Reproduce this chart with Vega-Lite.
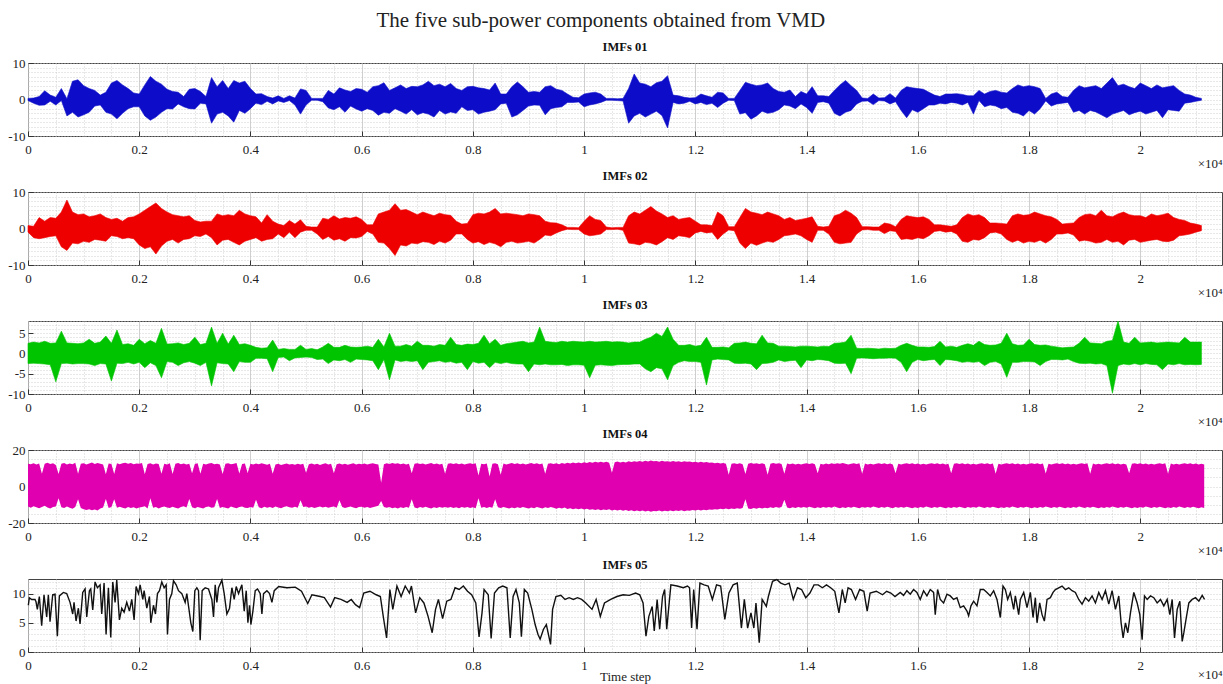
{
  "$schema": "https://vega.github.io/schema/vega-lite/v6.json",
  "background": "white",
  "padding": {"left": 7, "top": 10, "right": 1, "bottom": 0},
  "title": {"text": "The five sub-power components obtained from VMD", "font": "Liberation Serif", "fontSize": 21, "fontWeight": "normal", "color": "#222", "anchor": "middle", "offset": 9, "dx": -14},
  "config": {
    "font": "Liberation Serif",
    "view": {"stroke": "#444", "strokeWidth": 1},
    "title": {"font": "Liberation Serif", "fontSize": 12.5, "fontWeight": "bold", "color": "#111", "offset": 4},
    "axis": {
      "domain": false, "grid": true, "gridColor": "#c4c4c4", "gridWidth": 0.8,
      "labelFont": "Liberation Serif", "labelFontSize": 13, "labelColor": "#222",
      "titleFont": "Liberation Serif", "titleFontSize": 13, "titleFontWeight": "normal", "titleColor": "#222",
      "tickWidth": 1
    }
  },
  "data": {
    "values": "t,a1,a2,b1,b2,c1,c2\n0,0.3,-0.3,0.8,-1.0,2.5,-2.5\n100,0.4,-1.0,0.6,-2.5,2.8,-2.4\n200,0.8,-1.6,3.0,-2.8,2.6,-2.5\n300,2.4,-1.5,2.0,-2.5,3.0,-2.6\n400,1.2,-0.5,3.0,-2.2,2.5,-2.8\n500,0.6,-1.5,2.8,-2.0,2.6,-7.0\n600,3.0,-0.3,4.5,-5.0,5.5,-2.5\n700,0.2,-4.5,7.8,-6.0,2.6,-2.4\n800,5.0,-3.5,4.5,-4.0,2.5,-2.6\n900,5.4,-4.8,3.8,-4.2,2.4,-2.5\n1000,3.8,-4.2,4.0,-3.5,2.6,-2.5\n1100,3.0,-3.5,3.2,-3.8,3.5,-2.6\n1200,2.5,-1.8,3.5,-3.0,2.5,-3.0\n1300,1.2,-1.5,4.0,-3.2,2.8,-2.5\n1400,2.0,-3.5,3.0,-3.5,4.3,-2.6\n1500,4.5,-4.0,2.5,-2.0,2.5,-6.8\n1600,5.2,-5.3,2.8,-2.2,5.8,-2.4\n1700,4.0,-3.8,2.0,-2.8,2.2,-2.5\n1800,3.0,-2.5,3.0,-2.5,2.4,-2.2\n1900,1.8,-2.0,3.2,-2.8,2.0,-2.6\n2000,1.5,-2.0,4.0,-4.5,3.5,-2.2\n2100,4.0,-4.5,5.0,-5.5,2.4,-3.5\n2200,6.3,-5.7,6.0,-5.0,3.2,-2.3\n2300,5.0,-4.8,7.0,-7.0,2.5,-3.0\n2400,4.2,-3.5,5.5,-4.8,6.2,-6.0\n2500,2.8,-2.5,4.5,-3.5,2.3,-2.0\n2600,2.2,-2.6,3.8,-3.0,2.4,-2.2\n2700,2.0,-1.2,3.5,-4.0,2.6,-3.0\n2800,0.8,-2.0,3.2,-3.0,2.2,-2.3\n2900,2.8,-2.5,3.5,-2.8,2.5,-2.0\n3000,3.0,-2.6,2.2,-2.0,4.0,-2.4\n3100,2.2,-1.0,1.8,-2.2,2.2,-3.0\n3200,0.8,-1.2,2.0,-1.5,2.5,-2.2\n3300,6.0,-6.5,2.0,-2.5,6.5,-8.0\n3400,3.5,-4.0,4.0,-4.5,2.5,-2.3\n3500,5.2,-3.5,3.5,-3.2,5.0,-2.5\n3600,3.0,-4.5,3.8,-3.0,2.3,-2.6\n3700,5.2,-6.2,3.5,-3.8,4.5,-4.5\n3800,4.5,-3.0,5.0,-4.5,2.2,-2.0\n3900,5.0,-3.8,4.0,-3.5,2.4,-2.2\n4000,3.0,-2.5,3.5,-3.0,2.0,-2.2\n4100,1.5,-1.0,3.2,-2.5,1.5,-1.2\n4200,1.6,-1.4,1.5,-3.5,1.3,-1.2\n4300,0.8,-0.5,3.8,-3.0,1.4,-1.3\n4400,0.4,-1.2,2.0,-2.8,3.3,-4.5\n4500,1.0,-0.4,1.2,-1.5,1.0,-1.0\n4600,0.3,-0.8,0.8,-2.5,1.2,-0.9\n4700,1.0,-0.3,2.2,-1.0,1.0,-1.8\n4800,0.4,-1.5,1.2,-2.5,1.0,-1.1\n4900,2.9,-4.0,2.4,-1.0,2.0,-1.0\n5000,2.5,-1.5,0.6,-0.5,1.0,-0.9\n5100,0.3,-0.2,0.4,-0.5,1.2,-1.0\n5200,0.3,-0.2,0.4,-1.5,0.9,-1.5\n5300,0.3,-0.6,2.8,-3.0,1.6,-1.4\n5400,2.5,-2.3,2.5,-2.2,2.5,-2.5\n5500,1.5,-2.8,3.5,-3.2,1.5,-1.6\n5600,3.2,-2.0,2.6,-2.8,1.5,-1.8\n5700,2.6,-3.5,3.0,-3.5,2.0,-1.5\n5800,2.2,-1.8,2.8,-2.5,1.6,-2.2\n5900,3.0,-2.6,3.2,-2.6,1.5,-1.4\n6000,2.8,-3.2,2.5,-2.2,1.6,-1.5\n6100,2.0,-2.5,1.0,-0.8,1.8,-1.6\n6200,3.5,-3.0,1.0,-1.5,1.5,-1.8\n6300,3.8,-4.3,4.0,-3.8,3.5,-4.0\n6400,4.6,-3.5,4.5,-4.0,1.6,-1.5\n6500,2.5,-3.8,5.0,-5.5,5.0,-6.5\n6600,3.2,-2.5,6.8,-7.4,1.8,-1.6\n6700,4.0,-3.2,5.0,-4.5,1.8,-2.0\n6800,3.0,-4.0,5.2,-4.8,2.2,-1.8\n6900,3.6,-2.8,4.5,-4.0,1.8,-2.0\n7000,3.5,-4.2,3.8,-4.2,3.0,-1.8\n7100,4.0,-3.6,4.5,-3.6,2.0,-4.0\n7200,5.0,-4.0,4.0,-3.8,2.0,-2.2\n7300,3.8,-4.8,3.5,-4.4,1.8,-2.0\n7400,4.2,-3.0,4.2,-3.5,2.2,-1.8\n7500,3.5,-4.0,3.8,-4.0,2.0,-2.2\n7600,4.4,-3.4,3.6,-3.2,4.0,-2.0\n7700,3.0,-3.8,2.0,-1.5,2.2,-2.4\n7800,2.5,-2.0,1.2,-1.5,2.0,-2.2\n7900,3.5,-3.0,1.4,-3.0,2.3,-4.0\n8000,3.6,-2.8,3.8,-4.0,2.2,-2.0\n8100,3.2,-4.0,4.2,-3.6,2.5,-2.4\n8200,3.0,-3.5,4.0,-4.4,4.5,-2.2\n8300,2.6,-3.2,4.5,-3.8,2.4,-3.5\n8400,4.5,-2.8,5.5,-4.2,3.5,-2.2\n8500,1.5,-1.2,4.0,-5.0,2.0,-2.5\n8600,1.5,-1.0,4.2,-3.8,2.4,-2.2\n8700,3.5,-4.8,4.0,-3.5,2.6,-2.5\n8800,4.8,-4.2,3.8,-4.0,2.8,-2.6\n8900,3.5,-3.0,3.5,-3.8,3.0,-2.6\n9000,2.0,-1.8,4.0,-3.5,2.6,-4.5\n9100,2.2,-1.5,3.8,-4.0,2.8,-2.6\n9200,2.0,-1.6,3.5,-3.0,6.5,-2.8\n9300,3.5,-4.2,2.0,-1.8,3.0,-2.6\n9400,3.8,-2.5,1.6,-2.0,2.8,-2.8\n9500,2.8,-2.2,1.5,-1.2,2.7,-2.8\n9600,2.5,-2.0,1.0,-0.6,3.0,-2.7\n9700,1.5,-0.8,0.3,-0.2,2.8,-3.0\n9800,0.6,-0.8,0.3,-0.3,3.0,-2.8\n9900,0.5,-0.7,0.2,-0.3,2.9,-2.8\n10000,1.5,-2.0,2.0,-1.5,2.8,-2.9\n10100,1.8,-1.5,3.5,-2.0,3.0,-6.0\n10200,2.0,-1.2,2.5,-1.8,2.8,-2.9\n10300,1.5,-0.8,2.2,-1.5,2.9,-2.8\n10400,0.3,-0.2,0.4,-0.3,3.0,-2.9\n10500,0.3,-0.2,0.2,-0.3,2.8,-3.0\n10600,0.2,-0.3,0.3,-0.2,2.9,-2.8\n10700,0.3,-0.4,0.3,-0.5,2.8,-2.7\n10800,3.0,-6.5,3.5,-4.0,2.6,-2.7\n10900,7.0,-4.5,4.5,-4.2,2.8,-2.6\n11000,4.5,-3.8,4.0,-4.5,2.8,-2.6\n11100,4.2,-4.8,5.0,-3.8,3.5,-3.8\n11200,3.5,-4.0,6.0,-4.0,4.0,-4.5\n11300,4.6,-3.2,4.8,-4.5,5.0,-3.5\n11400,5.0,-4.4,4.0,-3.6,4.2,-3.8\n11500,6.5,-7.8,3.0,-2.5,6.5,-6.5\n11600,1.2,-0.8,3.5,-3.0,3.5,-3.0\n11700,1.0,-1.2,2.5,-2.0,2.0,-2.2\n11800,0.6,-1.0,2.8,-2.2,2.0,-1.8\n11900,0.4,-0.5,3.0,-2.5,2.2,-2.0\n12000,0.5,-1.2,2.0,-1.2,1.8,-2.0\n12100,1.5,-0.8,1.0,-0.8,2.0,-2.2\n12200,1.0,-1.4,1.0,-1.2,4.0,-7.8\n12300,0.6,-1.0,0.8,-1.0,1.5,-1.6\n12400,2.0,-2.2,4.5,-3.0,1.5,-1.4\n12500,1.8,-1.0,3.5,-1.5,1.6,-1.5\n12600,0.3,-0.2,0.5,-0.4,1.4,-1.6\n12700,0.3,-0.3,0.5,-0.6,2.5,-2.4\n12800,2.5,-4.0,3.0,-4.0,2.6,-2.5\n12900,4.7,-3.6,5.5,-5.5,2.8,-2.4\n13000,4.2,-5.4,4.5,-4.0,2.5,-2.6\n13100,3.8,-4.5,4.2,-4.6,2.4,-4.0\n13200,4.0,-3.2,3.8,-4.0,4.5,-2.5\n13300,4.5,-3.8,4.5,-3.5,2.6,-2.4\n13400,3.0,-3.5,4.0,-3.8,2.5,-2.2\n13500,2.2,-2.8,3.5,-3.0,1.8,-1.6\n13600,2.0,-1.5,2.5,-2.0,1.8,-2.0\n13700,2.6,-1.8,3.0,-1.8,1.7,-1.8\n13800,0.8,-2.5,2.2,-1.5,1.6,-1.7\n13900,2.2,-1.2,2.5,-2.0,1.8,-3.5\n14000,1.5,-2.2,2.8,-3.0,1.8,-1.6\n14100,3.5,-3.8,3.2,-3.8,1.7,-1.8\n14200,1.0,-0.8,0.6,-0.5,1.6,-1.5\n14300,1.0,-0.6,0.4,-0.5,1.8,-1.6\n14400,0.8,-1.0,0.6,-1.5,1.7,-1.8\n14500,2.5,-3.8,3.5,-3.8,2.5,-2.4\n14600,4.0,-4.5,4.0,-4.2,2.6,-2.5\n14700,5.2,-3.5,5.0,-4.0,2.8,-2.4\n14800,3.8,-3.0,4.2,-3.8,4.5,-5.0\n14900,2.5,-1.2,3.0,-1.5,1.3,-1.2\n15000,0.4,-0.5,0.5,-0.4,1.2,-1.1\n15100,0.3,-0.4,0.5,-0.3,1.3,-1.2\n15200,1.5,-1.4,0.4,-0.5,1.2,-1.3\n15300,0.4,-0.3,0.4,-0.5,1.1,-1.2\n15400,0.5,-0.4,1.5,-1.4,1.3,-1.2\n15500,1.6,-1.2,1.2,-0.6,1.2,-1.1\n15600,0.4,-0.6,0.5,-0.8,1.3,-1.2\n15700,2.5,-3.0,2.5,-3.0,2.0,-2.2\n15800,3.5,-5.0,3.5,-2.8,2.5,-4.5\n15900,3.2,-2.8,3.2,-3.0,2.0,-2.2\n16000,3.0,-3.5,3.0,-2.5,1.6,-1.5\n16100,2.8,-2.5,3.2,-2.8,1.6,-1.8\n16200,2.0,-1.5,2.5,-2.0,1.5,-1.6\n16300,1.2,-1.5,1.0,-0.8,1.7,-1.5\n16400,0.8,-1.0,1.0,-0.6,3.0,-3.0\n16500,1.5,-1.2,0.8,-1.0,1.6,-1.5\n16600,1.5,-0.8,0.6,-0.8,1.8,-1.6\n16700,1.6,-1.0,1.0,-1.5,1.5,-1.8\n16800,1.4,-1.5,3.0,-3.5,2.0,-2.2\n16900,1.0,-0.8,4.0,-3.8,2.4,-2.0\n17000,1.0,-4.0,3.5,-3.0,2.0,-2.2\n17100,2.5,-0.3,3.8,-3.2,3.0,-2.0\n17200,1.5,-2.0,3.0,-2.5,2.2,-3.0\n17300,2.2,-1.5,1.5,-1.2,2.0,-2.2\n17400,2.5,-1.8,1.5,-1.0,2.1,-2.0\n17500,2.0,-2.5,1.4,-1.5,2.5,-2.6\n17600,1.8,-2.2,1.2,-3.0,5.0,-5.9\n17700,3.0,-3.5,3.5,-3.8,2.4,-2.2\n17800,4.0,-3.8,4.0,-3.2,2.0,-2.2\n17900,3.5,-4.5,3.6,-4.0,2.1,-2.0\n18000,3.8,-3.0,3.8,-3.5,3.5,-2.0\n18100,3.5,-4.0,4.5,-3.8,2.2,-2.1\n18200,3.0,-2.5,4.0,-3.2,2.0,-3.0\n18300,0.3,-0.4,3.5,-4.0,2.1,-2.0\n18400,1.5,-1.8,3.2,-3.0,1.8,-1.5\n18500,2.0,-1.2,2.5,-1.5,1.6,-1.5\n18600,0.8,-1.0,1.2,-1.5,1.4,-1.6\n18700,0.6,-0.8,1.4,-1.2,1.5,-1.4\n18800,2.5,-3.5,1.5,-1.8,1.6,-2.0\n18900,3.8,-3.0,3.0,-3.5,2.5,-2.4\n19000,3.2,-4.0,3.8,-3.2,4.0,-2.5\n19100,3.5,-3.0,4.0,-3.5,2.6,-2.4\n19200,3.8,-3.4,3.5,-4.0,2.5,-2.6\n19300,3.0,-4.2,5.0,-3.8,2.4,-2.5\n19400,4.5,-5.0,3.5,-3.0,3.0,-3.0\n19500,6.0,-4.0,3.2,-3.8,3.2,-9.8\n19600,3.8,-3.5,4.0,-3.5,8.0,-3.0\n19700,4.2,-3.0,4.5,-4.5,2.8,-2.6\n19800,3.5,-4.2,3.8,-3.2,2.5,-2.8\n19900,3.0,-3.6,3.5,-3.0,4.0,-2.5\n20000,4.5,-3.2,3.5,-3.8,2.6,-2.8\n20100,3.8,-4.0,3.0,-3.5,2.7,-2.5\n20200,3.0,-3.5,4.0,-3.2,2.8,-2.7\n20300,4.0,-3.0,3.5,-3.0,2.6,-2.8\n20400,3.2,-5.0,3.8,-3.5,2.7,-4.0\n20500,3.5,-2.8,4.2,-3.6,2.8,-2.6\n20600,3.8,-3.0,3.0,-3.2,2.7,-2.8\n20700,2.5,-3.2,2.5,-2.0,2.6,-2.5\n20800,1.5,-1.0,2.2,-1.8,4.0,-2.8\n20900,1.2,-0.8,1.5,-1.5,2.8,-2.7\n21000,0.6,-0.5,1.2,-1.0,2.8,-2.8\n21100,0.3,-0.2,0.8,-0.6,2.8,-2.7",
    "format": {"type": "csv", "parse": {"t": "number", "a1": "number", "a2": "number", "b1": "number", "b2": "number", "c1": "number", "c2": "number"}}
  },
  "spacing": 56,
  "bounds": "flush",
  "vconcat": [
    {
      "width": 1194, "height": 73,
      "title": {"text": "IMFs 01"},
      "mark": {"type": "area", "color": "#0d0dc9", "stroke": "#0d0dc9", "strokeWidth": 0.6},
      "encoding": {
        "x": {"field": "t", "type": "quantitative", "scale": {"domain": [0, 21470], "nice": false, "zero": false},
          "axis": {"values": [0,500,1000,1500,2000,2500,3000,3500,4000,4500,5000,5500,6000,6500,7000,7500,8000,8500,9000,9500,10000,10500,11000,11500,12000,12500,13000,13500,14000,14500,15000,15500,16000,16500,17000,17500,18000,18500,19000,19500,20000,20500,21000],
            "labelExpr": "datum.value % 2000 === 0 ? format(datum.value / 10000, '') : ''", "labelOverlap": false, "labelFlush": false,
            "tickColor": {"condition": {"test": "datum.value % 2000 === 0", "value": "#333"}, "value": "transparent"},
            "tickSize": -5, "labelPadding": 12,
            "gridDash": {"condition": {"test": "datum.value % 2000 === 0", "value": []}, "value": [1, 2]},
            "title": "×10⁴", "titleX": 1194, "titleY": 31, "titleAlign": "right", "titleBaseline": "alphabetic"}},
        "y": {"field": "a1", "type": "quantitative", "scale": {"domain": [-10, 10], "nice": false},
          "axis": {"values": [-10,-8.75,-7.5,-6.25,-5,-3.75,-2.5,-1.25,0,1.25,2.5,3.75,5,6.25,7.5,8.75,10],
            "labelExpr": "datum.value % 10 === 0 ? '' + datum.value : ''", "labelOverlap": false, "labelFlush": false,
            "tickColor": {"condition": {"test": "datum.value % 10 === 0", "value": "#333"}, "value": "transparent"},
            "tickSize": -5, "labelPadding": 8, "gridDash": [1, 2], "title": null}},
        "y2": {"field": "a2"}
      }
    },
    {
      "width": 1194, "height": 73,
      "title": {"text": "IMFs 02"},
      "mark": {"type": "area", "color": "#ee0000", "stroke": "#ee0000", "strokeWidth": 0.6},
      "encoding": {
        "x": {"field": "t", "type": "quantitative", "scale": {"domain": [0, 21470], "nice": false, "zero": false},
          "axis": {"values": [0,500,1000,1500,2000,2500,3000,3500,4000,4500,5000,5500,6000,6500,7000,7500,8000,8500,9000,9500,10000,10500,11000,11500,12000,12500,13000,13500,14000,14500,15000,15500,16000,16500,17000,17500,18000,18500,19000,19500,20000,20500,21000],
            "labelExpr": "datum.value % 2000 === 0 ? format(datum.value / 10000, '') : ''", "labelOverlap": false, "labelFlush": false,
            "tickColor": {"condition": {"test": "datum.value % 2000 === 0", "value": "#333"}, "value": "transparent"},
            "tickSize": -5, "labelPadding": 12,
            "gridDash": {"condition": {"test": "datum.value % 2000 === 0", "value": []}, "value": [1, 2]},
            "title": "×10⁴", "titleX": 1194, "titleY": 31, "titleAlign": "right", "titleBaseline": "alphabetic"}},
        "y": {"field": "b1", "type": "quantitative", "scale": {"domain": [-10, 10], "nice": false},
          "axis": {"values": [-10,-8.75,-7.5,-6.25,-5,-3.75,-2.5,-1.25,0,1.25,2.5,3.75,5,6.25,7.5,8.75,10],
            "labelExpr": "datum.value % 10 === 0 ? '' + datum.value : ''", "labelOverlap": false, "labelFlush": false,
            "tickColor": {"condition": {"test": "datum.value % 10 === 0", "value": "#333"}, "value": "transparent"},
            "tickSize": -5, "labelPadding": 8, "gridDash": [1, 2], "title": null}},
        "y2": {"field": "b2"}
      }
    },
    {
      "width": 1194, "height": 73,
      "title": {"text": "IMFs 03"},
      "mark": {"type": "area", "color": "#00c400", "stroke": "#00c400", "strokeWidth": 0.6},
      "encoding": {
        "x": {"field": "t", "type": "quantitative", "scale": {"domain": [0, 21470], "nice": false, "zero": false},
          "axis": {"values": [0,500,1000,1500,2000,2500,3000,3500,4000,4500,5000,5500,6000,6500,7000,7500,8000,8500,9000,9500,10000,10500,11000,11500,12000,12500,13000,13500,14000,14500,15000,15500,16000,16500,17000,17500,18000,18500,19000,19500,20000,20500,21000],
            "labelExpr": "datum.value % 2000 === 0 ? format(datum.value / 10000, '') : ''", "labelOverlap": false, "labelFlush": false,
            "tickColor": {"condition": {"test": "datum.value % 2000 === 0", "value": "#333"}, "value": "transparent"},
            "tickSize": -5, "labelPadding": 12,
            "gridDash": {"condition": {"test": "datum.value % 2000 === 0", "value": []}, "value": [1, 2]},
            "title": "×10⁴", "titleX": 1194, "titleY": 31, "titleAlign": "right", "titleBaseline": "alphabetic"}},
        "y": {"field": "c1", "type": "quantitative", "scale": {"domain": [-10, 8], "nice": false},
          "axis": {"values": [-10,-9,-8,-7,-6,-5,-4,-3,-2,-1,0,1,2,3,4,5,6,7,8],
            "labelExpr": "datum.value % 5 === 0 ? '' + datum.value : ''", "labelOverlap": false, "labelFlush": false,
            "tickColor": {"condition": {"test": "datum.value % 5 === 0", "value": "#333"}, "value": "transparent"},
            "tickSize": -5, "labelPadding": 8, "gridDash": [1, 2], "title": null}},
        "y2": {"field": "c2"}
      }
    },
    {
      "width": 1194, "height": 73,
      "title": {"text": "IMFs 04"},
      "data": {
        "values": "t,h,l\n0,12.5,-11.0\n50,12.2,-11.6\n100,12.8,-10.8\n150,12.0,-11.4\n200,12.6,-11.9\n250,7.0,-11.2\n300,12.4,-10.6\n350,13.0,-11.5\n400,12.3,-12.0\n450,12.7,-11.3\n500,11.8,-10.9\n550,6.8,-6.5\n600,12.5,-11.4\n650,12.9,-11.8\n700,12.1,-11.0\n750,12.6,-11.6\n800,12.2,-12.2\n850,13.0,-11.2\n900,7.0,-7.0\n950,12.4,-11.8\n1000,12.8,-12.5\n1050,12.0,-12.9\n1100,12.6,-12.4\n1150,13.2,-13.0\n1200,12.3,-12.6\n1250,12.9,-13.2\n1300,12.5,-12.0\n1350,12.1,-11.5\n1400,6.7,-6.8\n1450,12.6,-11.8\n1500,12.3,-11.2\n1550,6.9,-7.0\n1600,12.8,-11.6\n1650,12.2,-11.1\n1700,12.7,-11.7\n1750,13.0,-12.0\n1800,12.4,-11.3\n1850,12.9,-11.8\n1900,12.2,-11.4\n1950,12.6,-12.1\n2000,12.4,-11.5\n2050,12.9,-11.2\n2100,6.7,-10.8\n2150,12.3,-12.0\n2200,12.8,-6.5\n2250,12.1,-11.6\n2300,12.6,-11.2\n2350,12.3,-12.1\n2400,7.0,-11.4\n2450,12.5,-10.9\n2500,12.0,-11.5\n2550,12.7,-11.8\n2600,6.8,-11.1\n2650,12.4,-11.7\n2700,12.9,-12.0\n2750,12.2,-11.3\n2800,12.6,-10.8\n2850,12.0,-11.5\n2900,12.5,-6.8\n2950,7.2,-11.4\n3000,12.3,-11.9\n3050,12.8,-11.2\n3100,7.0,-11.6\n3150,12.4,-12.0\n3200,12.0,-11.3\n3250,12.6,-10.9\n3300,12.9,-11.7\n3350,12.2,-11.4\n3400,12.5,-6.9\n3450,12.1,-11.8\n3500,6.9,-11.2\n3550,12.4,-11.6\n3600,12.7,-12.1\n3650,12.2,-11.0\n3700,12.5,-11.5\n3750,12.9,-11.9\n3800,7.1,-11.3\n3850,12.3,-10.9\n3900,12.6,-11.6\n3950,7.4,-11.8\n4000,12.4,-11.2\n4050,12.0,-11.7\n4100,12.6,-7.2\n4150,12.2,-11.4\n4200,12.8,-11.9\n4250,12.3,-11.1\n4300,11.9,-11.6\n4350,12.5,-11.3\n4400,7.0,-11.8\n4450,12.1,-11.0\n4500,12.4,-11.5\n4550,11.8,-11.9\n4600,12.2,-11.2\n4650,12.6,-10.8\n4700,12.0,-11.4\n4750,12.3,-11.7\n4800,11.9,-11.1\n4850,12.5,-11.6\n4900,12.1,-7.5\n4950,12.4,-11.3\n5000,7.5,-11.0\n5050,12.2,-11.6\n5100,12.6,-11.2\n5150,12.0,-11.8\n5200,12.4,-11.4\n5250,11.8,-10.9\n5300,12.3,-11.5\n5350,12.7,-11.1\n5400,12.1,-11.7\n5450,12.5,-11.3\n5500,7.3,-11.0\n5550,12.2,-11.6\n5600,12.6,-7.5\n5650,12.0,-11.2\n5700,12.4,-11.8\n5750,11.9,-11.4\n5800,12.3,-11.0\n5850,12.7,-11.5\n5900,12.1,-11.9\n5950,12.5,-11.3\n6000,12.2,-11.1\n6050,12.6,-11.6\n6100,12.0,-11.3\n6150,12.4,-11.8\n6200,12.8,-11.4\n6250,12.3,-11.0\n6300,12.0,-10.5\n6350,2.0,-8.0\n6400,12.2,-11.2\n6450,12.7,-11.7\n6500,12.3,-11.3\n6550,12.9,-11.9\n6600,12.4,-11.5\n6650,12.8,-12.0\n6700,12.2,-11.4\n6750,12.6,-11.8\n6800,12.1,-11.2\n6850,12.5,-11.6\n6900,7.2,-7.0\n6950,12.4,-11.5\n7000,12.8,-11.9\n7050,12.3,-11.3\n7100,12.6,-11.7\n7150,12.0,-11.1\n7200,12.5,-11.6\n7250,12.9,-12.0\n7300,12.2,-11.4\n7350,12.6,-11.8\n7400,12.1,-11.2\n7450,12.5,-11.6\n7500,7.0,-11.3\n7550,12.4,-11.7\n7600,12.8,-11.2\n7650,12.3,-11.8\n7700,12.7,-11.4\n7750,12.2,-11.9\n7800,12.6,-11.3\n7850,12.0,-11.7\n7900,12.4,-11.2\n7950,12.8,-11.8\n8000,12.3,-11.4\n8050,12.7,-11.9\n8100,6.0,-6.5\n8150,12.5,-11.6\n8200,12.2,-11.2\n8250,12.6,-11.8\n8300,5.5,-11.3\n8350,12.4,-11.7\n8400,12.8,-7.0\n8450,12.2,-11.4\n8500,6.5,-11.8\n8550,12.6,-11.3\n8600,12.1,-11.7\n8650,12.5,-12.0\n8700,12.9,-11.5\n8750,12.3,-11.9\n8800,12.7,-11.4\n8850,12.2,-11.8\n8900,12.6,-11.2\n8950,12.0,-11.6\n9000,12.5,-12.0\n9050,12.9,-11.5\n9100,12.3,-11.9\n9150,12.7,-11.3\n9200,12.2,-11.7\n9250,12.6,-12.1\n9300,7.0,-11.4\n9350,12.4,-11.8\n9400,12.8,-11.3\n9450,12.3,-11.7\n9500,12.7,-12.2\n9550,12.2,-11.6\n9600,12.9,-12.0\n9650,12.5,-11.5\n9700,13.0,-12.3\n9750,12.6,-11.9\n9800,13.2,-12.4\n9850,12.7,-12.0\n9900,13.1,-12.5\n9950,12.8,-12.1\n10000,13.3,-12.6\n10050,12.9,-12.2\n10100,13.4,-12.8\n10150,13.0,-12.4\n10200,13.5,-12.9\n10250,13.1,-12.5\n10300,13.6,-13.0\n10350,13.2,-12.6\n10400,13.5,-12.9\n10450,13.0,-12.5\n10500,7.5,-13.1\n10550,13.3,-12.7\n10600,13.7,-13.2\n10650,13.2,-12.8\n10700,13.6,-13.3\n10750,13.1,-12.9\n10800,13.8,-13.4\n10850,13.4,-13.0\n10900,13.9,-13.5\n10950,13.5,-13.1\n11000,14.0,-13.6\n11050,13.6,-13.2\n11100,14.1,-13.7\n11150,13.7,-13.3\n11200,14.2,-13.8\n11250,13.8,-13.4\n11300,14.0,-13.6\n11350,13.6,-13.2\n11400,14.1,-13.7\n11450,13.7,-13.3\n11500,13.9,-13.5\n11550,13.5,-13.1\n11600,14.0,-13.6\n11650,13.6,-13.2\n11700,13.8,-13.4\n11750,13.4,-13.0\n11800,13.9,-13.5\n11850,13.5,-13.1\n11900,13.7,-13.3\n11950,13.3,-12.9\n12000,13.6,-13.2\n12050,13.2,-12.8\n12100,13.5,-13.1\n12150,13.1,-12.7\n12200,13.4,-13.0\n12250,13.0,-12.6\n12300,13.2,-12.8\n12350,12.8,-12.4\n12400,13.0,-12.6\n12450,12.6,-12.2\n12500,12.9,-12.5\n12550,12.5,-12.1\n12600,6.5,-12.4\n12650,12.4,-12.0\n12700,12.8,-12.3\n12750,12.3,-11.9\n12800,12.7,-12.2\n12850,12.2,-11.8\n12900,6.8,-7.0\n12950,12.5,-12.0\n13000,12.9,-12.3\n13050,12.4,-11.8\n13100,12.8,-12.2\n13150,12.3,-11.7\n13200,12.7,-12.1\n13250,12.2,-11.6\n13300,6.5,-11.9\n13350,12.5,-11.4\n13400,12.9,-11.8\n13450,12.4,-11.3\n13500,12.8,-11.7\n13550,12.3,-11.2\n13600,7.0,-7.2\n13650,12.6,-11.5\n13700,12.2,-11.9\n13750,12.6,-11.4\n13800,12.1,-11.8\n13850,12.5,-11.3\n13900,12.0,-11.7\n13950,12.4,-11.2\n14000,12.8,-11.6\n14050,12.3,-11.1\n14100,12.7,-11.5\n14150,12.2,-11.9\n14200,7.2,-11.4\n14250,12.5,-11.8\n14300,12.1,-11.3\n14350,12.6,-11.7\n14400,12.2,-11.2\n14450,12.7,-11.6\n14500,12.3,-11.0\n14550,12.8,-11.5\n14600,12.4,-11.9\n14650,12.9,-11.4\n14700,12.5,-11.8\n14750,12.0,-11.2\n14800,12.4,-11.6\n14850,12.8,-11.1\n14900,12.3,-11.5\n14950,12.7,-11.9\n15000,7.0,-11.3\n15050,12.6,-11.7\n15100,12.1,-11.2\n15150,12.5,-11.6\n15200,12.0,-11.0\n15250,12.4,-11.4\n15300,12.8,-11.8\n15350,12.3,-11.2\n15400,12.7,-11.6\n15450,12.2,-11.1\n15500,12.6,-11.5\n15550,12.1,-11.9\n15600,7.2,-11.3\n15650,12.5,-11.7\n15700,12.0,-11.2\n15750,12.4,-11.6\n15800,12.8,-11.1\n15850,12.3,-11.5\n15900,12.7,-11.9\n15950,12.2,-11.4\n16000,12.6,-11.8\n16050,12.1,-11.2\n16100,12.5,-11.6\n16150,12.0,-11.0\n16200,12.4,-11.4\n16250,12.8,-11.8\n16300,12.3,-11.3\n16350,12.7,-11.7\n16400,12.2,-11.1\n16450,12.6,-11.5\n16500,12.1,-11.9\n16550,12.5,-11.4\n16600,7.3,-11.8\n16650,12.4,-11.2\n16700,12.8,-11.6\n16750,12.3,-11.1\n16800,12.7,-11.5\n16850,12.2,-11.9\n16900,12.6,-11.3\n16950,12.1,-11.7\n17000,12.5,-11.2\n17050,12.0,-11.6\n17100,12.4,-11.0\n17150,12.8,-11.4\n17200,12.3,-11.8\n17250,12.7,-11.3\n17300,12.2,-11.7\n17350,12.6,-11.1\n17400,7.0,-11.5\n17450,12.5,-11.9\n17500,12.0,-11.4\n17550,12.4,-11.8\n17600,12.8,-11.2\n17650,12.3,-11.6\n17700,12.7,-11.0\n17750,12.2,-11.4\n17800,12.6,-11.8\n17850,12.1,-11.3\n17900,12.5,-11.7\n17950,12.0,-11.1\n18000,12.4,-11.5\n18050,12.8,-11.9\n18100,12.3,-11.4\n18150,12.7,-11.8\n18200,12.2,-11.2\n18250,12.6,-11.6\n18300,7.1,-11.0\n18350,12.5,-11.4\n18400,12.0,-11.8\n18450,12.4,-11.3\n18500,12.8,-11.7\n18550,12.3,-11.1\n18600,12.7,-11.5\n18650,12.2,-11.9\n18700,12.6,-11.4\n18750,12.1,-11.8\n18800,12.5,-11.2\n18850,12.0,-11.6\n18900,12.4,-11.0\n18950,12.8,-11.4\n19000,12.3,-11.8\n19050,12.7,-11.3\n19100,7.0,-11.7\n19150,12.6,-11.1\n19200,12.1,-11.5\n19250,12.5,-11.9\n19300,12.0,-11.4\n19350,12.4,-11.8\n19400,12.8,-11.2\n19450,12.3,-11.6\n19500,12.7,-11.0\n19550,12.2,-11.4\n19600,12.6,-11.8\n19650,12.1,-11.3\n19700,12.5,-11.7\n19750,12.0,-11.1\n19800,7.2,-11.5\n19850,12.4,-11.9\n19900,12.8,-11.4\n19950,12.3,-11.8\n20000,12.7,-11.2\n20050,12.2,-11.6\n20100,12.6,-11.0\n20150,12.1,-11.4\n20200,12.5,-11.8\n20250,12.0,-11.3\n20300,12.4,-11.7\n20350,12.8,-11.1\n20400,12.3,-11.5\n20450,12.7,-11.9\n20500,7.0,-11.4\n20550,12.6,-11.8\n20600,12.1,-11.2\n20650,12.5,-11.6\n20700,12.0,-11.0\n20750,12.4,-11.4\n20800,12.8,-11.8\n20850,12.3,-11.3\n20900,12.7,-11.7\n20950,12.2,-11.1\n21000,12.6,-11.5\n21050,12.1,-11.9\n21100,12.5,-11.4\n21150,12.0,-11.8",
        "format": {"type": "csv", "parse": {"t": "number", "h": "number", "l": "number"}}
      },
      "mark": {"type": "area", "color": "#e000b0", "opacity": 1},
      "encoding": {
        "x": {"field": "t", "type": "quantitative", "scale": {"domain": [0, 21470], "nice": false, "zero": false},
          "axis": {"values": [0,500,1000,1500,2000,2500,3000,3500,4000,4500,5000,5500,6000,6500,7000,7500,8000,8500,9000,9500,10000,10500,11000,11500,12000,12500,13000,13500,14000,14500,15000,15500,16000,16500,17000,17500,18000,18500,19000,19500,20000,20500,21000],
            "labelExpr": "datum.value % 2000 === 0 ? format(datum.value / 10000, '') : ''", "labelOverlap": false, "labelFlush": false,
            "tickColor": {"condition": {"test": "datum.value % 2000 === 0", "value": "#333"}, "value": "transparent"},
            "tickSize": -5, "labelPadding": 12,
            "gridDash": {"condition": {"test": "datum.value % 2000 === 0", "value": []}, "value": [1, 2]},
            "title": "×10⁴", "titleX": 1194, "titleY": 31, "titleAlign": "right", "titleBaseline": "alphabetic"}},
        "y": {"field": "h", "type": "quantitative", "scale": {"domain": [-20, 20], "nice": false},
          "axis": {"values": [-20,-15,-10,-5,0,5,10,15,20],
            "labelExpr": "datum.value % 20 === 0 ? '' + datum.value : ''", "labelOverlap": false, "labelFlush": false,
            "tickColor": {"condition": {"test": "datum.value % 20 === 0", "value": "#333"}, "value": "transparent"},
            "tickSize": -5, "labelPadding": 8, "gridDash": [1, 2], "title": null}},
        "y2": {"field": "l"}
      }
    },
    {
      "width": 1194, "height": 73,
      "title": {"text": "IMFs 05"},
      "data": {
        "values": "t,v\n6,8.0\n24,9.3\n66,9.0\n126,9.0\n144,8.6\n168,7.3\n204,9.5\n246,4.5\n288,9.8\n336,6.0\n366,9.8\n396,5.2\n444,9.8\n486,9.9\n528,2.7\n564,9.6\n636,10.2\n696,10.0\n756,8.5\n804,6.5\n828,8.5\n864,5.3\n906,7.5\n936,4.8\n984,10.2\n1026,10.8\n1056,6.0\n1104,10.5\n1128,10.8\n1164,7.2\n1206,12.0\n1248,11.0\n1296,11.5\n1326,6.5\n1368,11.8\n1404,3.0\n1446,11.0\n1488,2.5\n1524,12.0\n1566,8.5\n1596,12.3\n1644,5.5\n1686,7.5\n1728,6.8\n1776,8.5\n1824,7.0\n1866,9.0\n1908,5.5\n1944,11.2\n1986,10.0\n2016,11.5\n2064,9.0\n2088,10.5\n2136,7.5\n2184,9.5\n2208,5.0\n2256,8.0\n2292,6.5\n2328,10.0\n2364,10.5\n2406,12.0\n2448,11.0\n2484,11.5\n2508,3.0\n2544,9.0\n2586,10.0\n2616,12.2\n2664,11.5\n2706,10.5\n2766,10.0\n2826,8.5\n2856,10.0\n2928,5.0\n2964,3.5\n3000,10.5\n3036,11.0\n3066,10.5\n3096,2.0\n3132,10.5\n3186,11.0\n3246,10.8\n3306,9.0\n3336,6.0\n3366,11.5\n3396,8.5\n3426,11.0\n3486,12.3\n3528,10.0\n3576,6.5\n3624,7.5\n3666,11.0\n3708,9.0\n3744,11.2\n3786,10.0\n3846,11.5\n3888,7.0\n3924,10.5\n3954,5.0\n3984,8.0\n4008,4.7\n4044,7.0\n4086,10.5\n4128,10.8\n4176,10.0\n4206,6.5\n4236,10.0\n4296,10.5\n4344,10.0\n4386,8.5\n4428,10.5\n4508,11.2\n4657,11.0\n4806,11.1\n4918,10.4\n5030,8.3\n5105,9.8\n5254,9.5\n5329,9.3\n5440,7.7\n5515,9.3\n5627,9.0\n5739,8.5\n5813,9.0\n5888,8.1\n5963,7.6\n6037,10.1\n6149,10.4\n6261,9.8\n6336,9.5\n6388,6.1\n6448,2.4\n6507,10.7\n6560,7.3\n6634,11.3\n6709,9.5\n6783,11.3\n6858,10.1\n6895,11.3\n6970,6.7\n7044,9.3\n7119,8.4\n7194,6.1\n7268,3.3\n7328,7.3\n7380,9.0\n7455,5.7\n7530,8.7\n7604,9.0\n7679,11.0\n7753,10.7\n7828,11.3\n7903,10.4\n7977,9.8\n8052,8.4\n8111,2.6\n8164,6.7\n8201,10.7\n8276,9.8\n8328,2.3\n8388,10.1\n8463,11.0\n8537,11.3\n8612,11.0\n8671,2.4\n8723,9.5\n8775,10.7\n8835,8.4\n8872,2.6\n8925,10.7\n8985,10.1\n9060,7.3\n9119,4.7\n9171,3.0\n9209,2.2\n9269,3.9\n9321,4.7\n9396,1.3\n9433,7.3\n9493,9.5\n9582,9.7\n9657,9.0\n9731,9.3\n9806,9.0\n9881,9.3\n9955,9.0\n10030,8.4\n10142,7.3\n10216,9.0\n10291,6.1\n10366,8.4\n10478,9.0\n10590,9.5\n10701,9.8\n10813,9.7\n10925,10.1\n11000,9.8\n11060,8.4\n11112,2.7\n11164,6.1\n11224,7.8\n11261,3.6\n11313,9.0\n11358,3.9\n11410,9.5\n11448,10.7\n11485,3.9\n11560,11.5\n11672,11.3\n11784,11.0\n11858,11.3\n11896,11.0\n11933,4.1\n11970,10.7\n12030,3.9\n12082,11.8\n12157,11.5\n12231,11.3\n12306,9.0\n12381,11.5\n12455,11.3\n12530,5.6\n12604,10.1\n12679,11.5\n12754,11.8\n12828,4.1\n12881,9.0\n12940,4.1\n13000,6.7\n13052,4.1\n13090,8.4\n13149,1.6\n13201,9.0\n13276,7.8\n13313,9.5\n13388,12.1\n13463,12.4\n13537,11.8\n13612,11.5\n13687,11.8\n13761,9.0\n13836,11.0\n13910,10.7\n13985,9.3\n14060,10.1\n14134,11.5\n14209,11.5\n14284,11.0\n14358,11.5\n14433,11.0\n14507,10.4\n14582,6.7\n14642,10.7\n14694,8.4\n14746,11.0\n14806,10.7\n14881,9.0\n14955,10.7\n15030,10.4\n15090,7.0\n15142,10.1\n15254,10.4\n15366,9.8\n15440,10.4\n15515,10.1\n15590,9.5\n15684,10.2\n15744,9.7\n15804,10.5\n15864,9.9\n15924,10.7\n15984,10.2\n16044,9.0\n16104,10.5\n16164,9.6\n16224,10.7\n16284,10.2\n16314,6.4\n16356,10.7\n16404,9.0\n16464,8.4\n16524,9.9\n16584,9.6\n16644,9.0\n16704,9.3\n16764,7.6\n16824,7.9\n16884,7.0\n16914,6.2\n16956,7.9\n17004,8.7\n17064,7.9\n17124,10.7\n17184,10.7\n17244,10.2\n17304,9.6\n17364,10.5\n17424,9.0\n17484,5.9\n17532,11.3\n17574,10.7\n17616,9.0\n17664,10.2\n17724,7.3\n17754,9.6\n17814,6.4\n17844,9.0\n17904,10.2\n17964,7.6\n18024,10.2\n18072,5.9\n18114,9.3\n18144,5.0\n18192,8.4\n18234,6.4\n18276,5.3\n18324,9.0\n18384,9.3\n18432,10.2\n18474,10.7\n18534,11.0\n18594,11.3\n18654,10.7\n18714,11.0\n18774,10.5\n18834,10.2\n18894,9.0\n18954,8.2\n19014,9.3\n19074,8.7\n19134,9.6\n19194,8.4\n19254,10.2\n19314,9.0\n19374,10.5\n19434,8.2\n19494,10.5\n19554,7.3\n19614,9.6\n19656,5.0\n19692,2.4\n19734,5.0\n19776,3.3\n19824,6.7\n19884,10.2\n19944,8.4\n19992,6.4\n20034,2.1\n20076,9.6\n20124,9.0\n20184,9.6\n20244,9.3\n20304,8.4\n20364,9.0\n20424,7.9\n20484,9.0\n20532,6.4\n20574,9.0\n20616,2.4\n20664,7.3\n20712,8.7\n20754,1.8\n20784,3.3\n20832,6.1\n20874,8.4\n20934,9.0\n20994,9.3\n21054,8.7\n21114,9.7\n21156,9.0",
        "format": {"type": "csv", "parse": {"t": "number", "v": "number"}}
      },
      "layer": [
        {
          "mark": {"type": "line", "color": "#111", "strokeWidth": 1.4},
          "encoding": {
            "x": {"field": "t", "type": "quantitative", "scale": {"domain": [0, 21470], "nice": false, "zero": false},
              "axis": {"values": [0,500,1000,1500,2000,2500,3000,3500,4000,4500,5000,5500,6000,6500,7000,7500,8000,8500,9000,9500,10000,10500,11000,11500,12000,12500,13000,13500,14000,14500,15000,15500,16000,16500,17000,17500,18000,18500,19000,19500,20000,20500,21000],
                "labelExpr": "datum.value % 2000 === 0 ? format(datum.value / 10000, '') : ''", "labelOverlap": false, "labelFlush": false,
                "tickColor": {"condition": {"test": "datum.value % 2000 === 0", "value": "#333"}, "value": "transparent"},
                "tickSize": -5, "labelPadding": 12,
                "gridDash": {"condition": {"test": "datum.value % 2000 === 0", "value": []}, "value": [1, 2]},
                "title": "Time step", "titleX": 597, "titleY": 28, "titleAlign": "center", "titleBaseline": "alphabetic"}},
            "y": {"field": "v", "type": "quantitative", "scale": {"domain": [0, 12.5], "nice": false, "zero": false},
              "axis": {"values": [0,1,2,3,4,5,6,7,8,9,10,11,12],
                "labelExpr": "datum.value % 5 === 0 ? '' + datum.value : ''", "labelOverlap": false, "labelFlush": false,
                "tickColor": {"condition": {"test": "datum.value % 5 === 0", "value": "#333"}, "value": "transparent"},
                "tickSize": -5, "labelPadding": 8, "gridDash": [1, 2], "title": null}}
          }
        },
        {
          "mark": {"type": "line", "strokeOpacity": 0},
          "encoding": {
            "x": {"field": "t", "type": "quantitative", "scale": {"domain": [0, 21470], "nice": false, "zero": false},
              "axis": {"orient": "top", "labels": false, "ticks": false, "domain": false, "grid": false,
                "title": "×10⁴", "titleX": 1194, "titleY": 99, "titleAlign": "right", "titleBaseline": "alphabetic"}},
            "y": {"field": "v", "type": "quantitative", "scale": {"domain": [0, 12.5], "nice": false, "zero": false}, "axis": null}
          }
        }
      ],
      "resolve": {"axis": {"x": "independent", "y": "independent"}}
    }
  ]
}
